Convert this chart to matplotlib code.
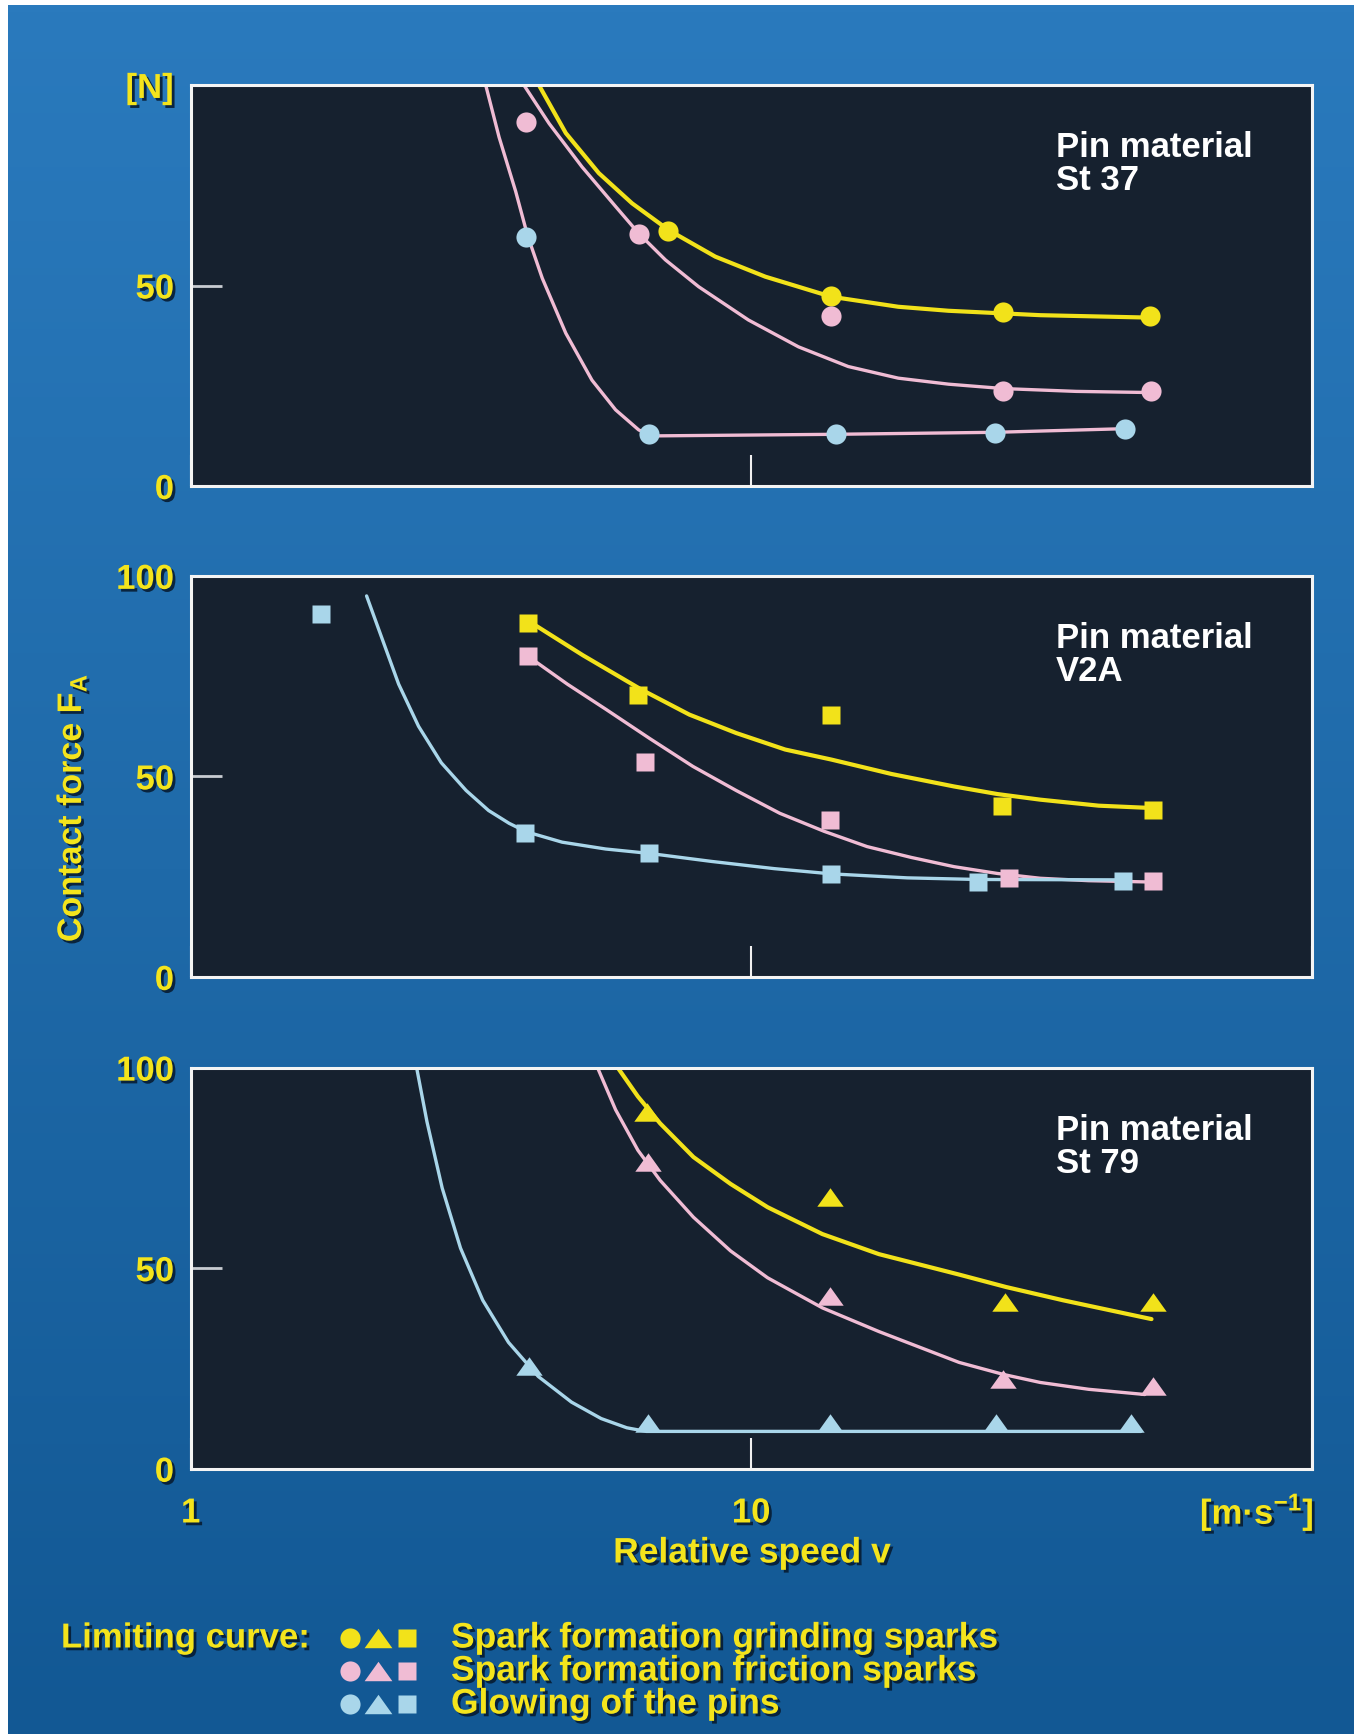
import numpy as np
import matplotlib
matplotlib.use("Agg")
import matplotlib.pyplot as plt
import matplotlib.patheffects as pe
from matplotlib.colors import LinearSegmentedColormap

plt.rcParams['font.family'] = ['Liberation Sans', 'DejaVu Sans']
plt.rcParams['font.weight'] = 'bold'
plt.rcParams['mathtext.default'] = 'bf'

# ---- data ----
# colours: grinding sparks, friction sparks, glowing of the pins
YEL = '#f2e21a'
PNK = '#f0bcd4'
BLU = '#a9d6ea'

# St 37 (circles)
st37_grind_v = [7.1, 13.9, 28.1, 51.4]
st37_grind_f = [63.5, 47.5, 43.5, 42.5]
st37_fric_v = [3.97, 6.3, 13.9, 28.1, 51.8]
st37_fric_f = [90.8, 62.8, 42.5, 23.6, 23.6]
st37_glow_v = [3.96, 6.56, 14.2, 27.2, 46.5]
st37_glow_f = [62.0, 13.0, 12.9, 13.2, 14.3]

st37_grind_cv = [4.18, 4.67, 5.35, 6.13, 7.13, 8.63, 10.6, 13.9, 18.3, 22.5, 32.8, 51.3]
st37_grind_cf = [100, 88.0, 78.0, 70.5, 63.8, 57.2, 52.2, 47.2, 44.7, 43.7, 42.6, 42.0]
st37_fric_cv = [3.93, 4.36, 4.99, 5.73, 6.30, 7.03, 8.06, 9.89, 12.15, 14.9, 18.3, 22.5, 28.2, 38.0, 52.2]
st37_fric_cf = [100, 90.4, 79.6, 69.7, 63.0, 56.4, 49.7, 41.4, 34.7, 29.8, 26.9, 25.4, 24.3, 23.6, 23.3]
st37_glow_cv = [3.36, 3.55, 3.80, 3.99, 4.24, 4.67, 5.20, 5.73, 6.30, 6.66, 14.1, 27.3, 46.4]
st37_glow_cf = [100, 87.0, 73.5, 62.5, 51.8, 38.1, 26.4, 19.0, 14.0, 12.5, 12.9, 13.4, 14.3]

# V2A (squares)
v2a_grind_v = [4.0, 6.29, 13.9, 28.0, 52.2]
v2a_grind_f = [88.3, 70.4, 65.4, 42.5, 41.7]
v2a_fric_v = [4.0, 6.47, 13.8, 28.8, 52.2]
v2a_fric_f = [80.0, 53.7, 39.2, 24.6, 24.0]
v2a_glow_v = [1.71, 3.95, 6.58, 13.9, 25.4, 46.1]
v2a_glow_f = [90.4, 35.8, 30.8, 25.7, 23.7, 24.0]

v2a_grind_cv = [4.14, 5.01, 6.36, 7.76, 9.41, 11.5, 13.9, 17.8, 23.0, 27.5, 32.8, 41.7, 52.2]
v2a_grind_cf = [87.5, 80.2, 71.7, 65.4, 60.8, 56.7, 54.2, 50.6, 47.5, 45.6, 44.2, 42.7, 42.1]
v2a_fric_cv = [4.07, 4.7, 5.51, 6.6, 7.87, 9.4, 11.25, 13.5, 16.1, 19.3, 23.0, 27.5, 32.8, 40.0, 50.4]
v2a_fric_cf = [79.2, 73.0, 66.7, 59.4, 52.5, 46.5, 40.8, 36.3, 32.5, 29.8, 27.5, 25.8, 24.6, 24.0, 23.7]
v2a_glow_cv = [2.06, 2.2, 2.35, 2.55, 2.8, 3.1, 3.4, 3.7, 3.97, 4.6, 5.5, 6.58, 8.5, 11.0, 13.9, 19.0, 25.4, 47.0]
v2a_glow_cf = [95.0, 84.0, 73.0, 62.5, 53.4, 46.5, 41.5, 38.3, 36.2, 33.6, 31.9, 30.8, 28.8, 27.0, 25.7, 24.7, 24.3, 24.2]

# St 79 (triangles)
st79_grind_v = [6.53, 13.8, 28.4, 52.2]
st79_grind_f = [89.0, 67.7, 41.5, 41.5]
st79_fric_v = [6.55, 13.8, 28.2, 52.2]
st79_fric_f = [76.5, 43.0, 22.4, 20.6]
st79_glow_v = [4.01, 6.55, 13.8, 27.4, 47.7]
st79_glow_f = [25.7, 11.4, 11.4, 11.4, 11.4]

st79_grind_cv = [5.78, 6.28, 6.88, 7.89, 9.19, 10.7, 13.4, 16.9, 23.5, 28.5, 36.0, 51.8]
st79_grind_cf = [100, 92.8, 86.1, 77.7, 71.0, 65.2, 58.5, 53.5, 48.4, 45.3, 42.0, 37.3]
st79_fric_cv = [5.32, 5.73, 6.28, 6.88, 7.89, 9.19, 10.7, 13.4, 16.9, 23.5, 28.2, 32.8, 40.0, 50.4]
st79_fric_cf = [100, 89.5, 79.4, 71.9, 62.7, 54.3, 47.6, 40.1, 34.2, 26.5, 23.5, 21.5, 19.8, 18.5]
st79_glow_cv = [2.53, 2.64, 2.81, 3.03, 3.32, 3.69, 4.17, 4.78, 5.40, 6.0, 6.5, 49.6]
st79_glow_cf = [100, 86.5, 70.0, 55.0, 42.0, 31.5, 23.0, 16.6, 12.5, 10.2, 9.3, 9.3]

# flat, wide triangle like the printed one
TRI = [(-1, -0.7), (1, -0.7), (0, 0.7), (-1, -0.7)]

panels = [
    ('Pin material\nSt 37', 'o', 14.5,
     [(st37_grind_v, st37_grind_f, st37_grind_cv, st37_grind_cf, YEL, YEL),
      (st37_fric_v, st37_fric_f, st37_fric_cv, st37_fric_cf, PNK, PNK),
      (st37_glow_v, st37_glow_f, st37_glow_cv, st37_glow_cf, BLU, PNK)],
     ['0', '50', '[N]']),
    ('Pin material\nV2A', 's', 12.5,
     [(v2a_grind_v, v2a_grind_f, v2a_grind_cv, v2a_grind_cf, YEL, YEL),
      (v2a_fric_v, v2a_fric_f, v2a_fric_cv, v2a_fric_cf, PNK, PNK),
      (v2a_glow_v, v2a_glow_f, v2a_glow_cv, v2a_glow_cf, BLU, BLU)],
     ['0', '50', '100']),
    ('Pin material\nSt 79', TRI, 19,
     [(st79_grind_v, st79_grind_f, st79_grind_cv, st79_grind_cf, YEL, YEL),
      (st79_fric_v, st79_fric_f, st79_fric_cv, st79_fric_cf, PNK, PNK),
      (st79_glow_v, st79_glow_f, st79_glow_cv, st79_glow_cf, BLU, BLU)],
     ['0', '50', '100']),
]

legend_labels = ['Spark formation grinding sparks',
                 'Spark formation friction sparks',
                 'Glowing of the pins']

# ---- figure ----
W, H = 1362, 1734
fig = plt.figure(figsize=(W / 100, H / 100), dpi=100, facecolor='white')

bg = fig.add_axes([0.006, 0, 0.988, 0.997])
bg.set_axis_off()
grad = np.linspace(0, 1, 256).reshape(-1, 1)
cmap = LinearSegmentedColormap.from_list('bg', ['#2a7abd', '#1f6aa9', '#125894'])
bg.imshow(grad, aspect='auto', cmap=cmap, extent=[0, 1, 0, 1])
bg.set_xlim(0, 1)
bg.set_ylim(0, 1)

shadow = [pe.SimplePatchShadow(offset=(2, -2), shadow_rgbFace='#06182c', alpha=0.85), pe.Normal()]
TXT = '#f4e41c'
FS = 25

bottoms = [0.7197, 0.4366, 0.153]
ph = 0.2313
for i, (title, mk, ms, series, ylabs) in enumerate(panels):
    ax = fig.add_axes([0.140, bottoms[i], 0.823, ph])
    ax.set_facecolor('#16212f')
    ax.set_xscale('log')
    ax.set_xlim(1, 100)
    ax.set_ylim(0, 100)
    for s in ax.spines.values():
        s.set_color('#f4f4f4')
        s.set_linewidth(2.2)
    for v, f, cv, cf, mc, lc in series:
        lw = 3.0 if lc == YEL else 2.4
        ax.plot(cv, cf, color=lc, lw=lw, solid_capstyle='round', solid_joinstyle='round', zorder=2)
        ax.plot(v, f, ls='none', marker=mk, ms=ms, mfc=mc, mec='none', zorder=3, clip_on=False)
    ax.text(0.772, 0.885, title, transform=ax.transAxes, color='white', fontsize=FS,
            va='top', ha='left', linespacing=1.0)
    ax.set_yticks([0, 50, 100])
    ax.set_yticklabels(ylabs)
    ax.tick_params(axis='y', direction='in', length=22, width=2.0, color='#c8ccd2',
                   labelcolor=TXT, labelsize=FS, pad=12)
    ax.set_xticks([1, 10, 100])
    ax.xaxis.set_minor_locator(matplotlib.ticker.NullLocator())
    ax.tick_params(axis='x', direction='in', length=22, width=1.5, color='#f0f0f0',
                   labelcolor=TXT, labelsize=FS, pad=20)
    if i < 2:
        ax.set_xticklabels(['', '', ''])
    else:
        ax.set_xticklabels(['1', '10', ''])
    for lbl in ax.get_yticklabels() + ax.get_xticklabels():
        lbl.set_path_effects(shadow)

fig.text(1257 / W, 1 - 1512 / H, '[m·s$^{\\mathregular{-1}}$]', color=TXT, fontsize=FS,
         ha='center', va='center', path_effects=shadow)
fig.text(72 / W, 1 - 808 / H, 'Contact force F$_{\\mathregular{A}}$', color=TXT, fontsize=24.5,
         rotation=90, ha='center', va='center', path_effects=shadow)
fig.text(752 / W, 1 - 1553 / H, 'Relative speed v', color=TXT, fontsize=25.5,
         ha='center', va='center', path_effects=shadow)

# legend
fig.text(61 / W, 1 - 1638 / H, 'Limiting curve:', color=TXT, fontsize=25,
         ha='left', va='center', path_effects=shadow)
lax = fig.add_axes([0, 0, 1, 1])
lax.set_axis_off()
lax.set_xlim(0, W)
lax.set_ylim(H, 0)
row_y = [1638, 1671, 1704]
for y, col, lab in zip(row_y, [YEL, PNK, BLU], legend_labels):
    for x, m, s in [(350, 'o', 14.5), (378, TRI, 20), (407, 's', 12.5)]:
        lax.plot([x], [y], ls='none', marker=m, ms=s, mfc=col, mec='none')
    fig.text(451 / W, 1 - y / H, lab, color=TXT, fontsize=25.5, ha='left', va='center',
             path_effects=shadow)

fig.savefig('out.png', dpi=100, facecolor=fig.get_facecolor())
